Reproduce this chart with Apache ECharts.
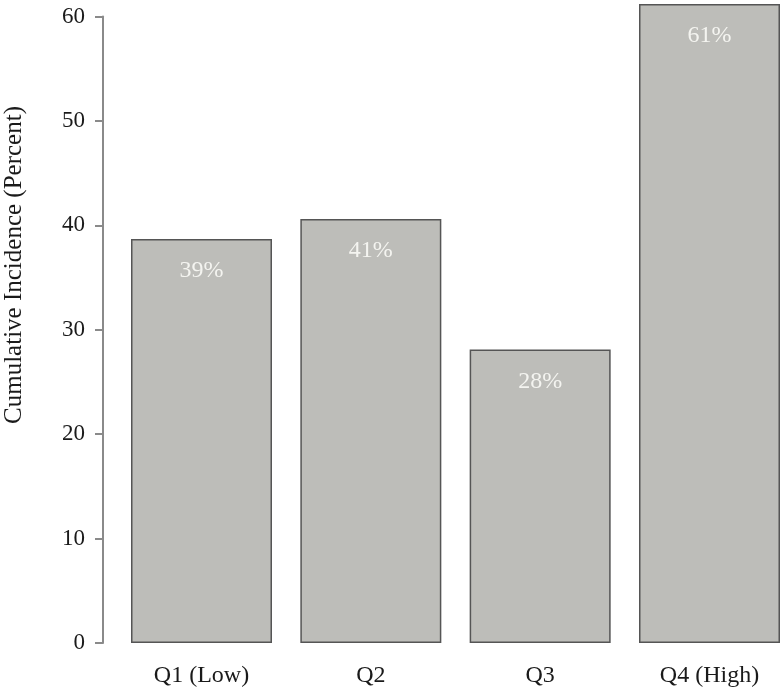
<!DOCTYPE html>
<html>
<head>
<meta charset="utf-8">
<script src="https://cdn.jsdelivr.net/npm/echarts@6/dist/echarts.min.js"></script>
<style>html,body{margin:0;padding:0;background:#fff}#c{width:784px;height:694px}</style>
</head>
<body>
<div id="c"></div>
<script>
const categories = ['Q1 (Low)', 'Q2', 'Q3', 'Q4 (High)'];
const values = [38.7, 40.6, 28.1, 61.2];
const barLabels = ['39%', '41%', '28%', '61%'];
const yTicks = [0, 10, 20, 30, 40, 50, 60];
const yTitle = 'Cumulative Incidence (Percent)';

const FONT = '"Liberation Serif", "DejaVu Serif", serif';
const chart = echarts.init(document.getElementById('c'), null, {renderer: 'canvas'});
chart.setOption({
  animation: false,
  backgroundColor: '#ffffff',
  grid: {left: 201.5, top: 16.5, width: 508, bottom: 51},
  xAxis: {
    type: 'category',
    data: categories,
    boundaryGap: false,
    axisLine: {show: false},
    axisTick: {show: false},
    axisLabel: {fontFamily: FONT, fontSize: 24, color: '#1a1a1a', margin: 21}
  },
  yAxis: {
    type: 'value',
    min: yTicks[0], max: yTicks[yTicks.length - 1], interval: 10,
    offset: 98.5,
    splitLine: {show: false},
    axisLine: {show: true, lineStyle: {color: '#8a8a8a', width: 2}},
    axisTick: {show: true, length: 8, lineStyle: {color: '#8a8a8a', width: 2}},
    axisLabel: {fontFamily: FONT, fontSize: 23, color: '#1a1a1a', margin: 18}
  },
  graphic: [{
    type: 'text',
    x: 14, y: 265,
    rotation: Math.PI / 2,
    style: {text: yTitle, fontFamily: FONT, fontSize: 25, fill: '#1a1a1a', align: 'center', verticalAlign: 'middle'}
  }],
  series: [{
    type: 'bar',
    data: values.map((v, i) => ({value: v, label: {formatter: barLabels[i]}})),
    barWidth: 141,
    clip: false,
    itemStyle: {color: '#bdbdb9', borderColor: '#555555', borderWidth: 1.5},
    label: {show: true, position: 'insideTop', distance: 20, fontFamily: FONT, fontSize: 24, color: '#f4f4f0'}
  }]
});
</script>
</body>
</html>
